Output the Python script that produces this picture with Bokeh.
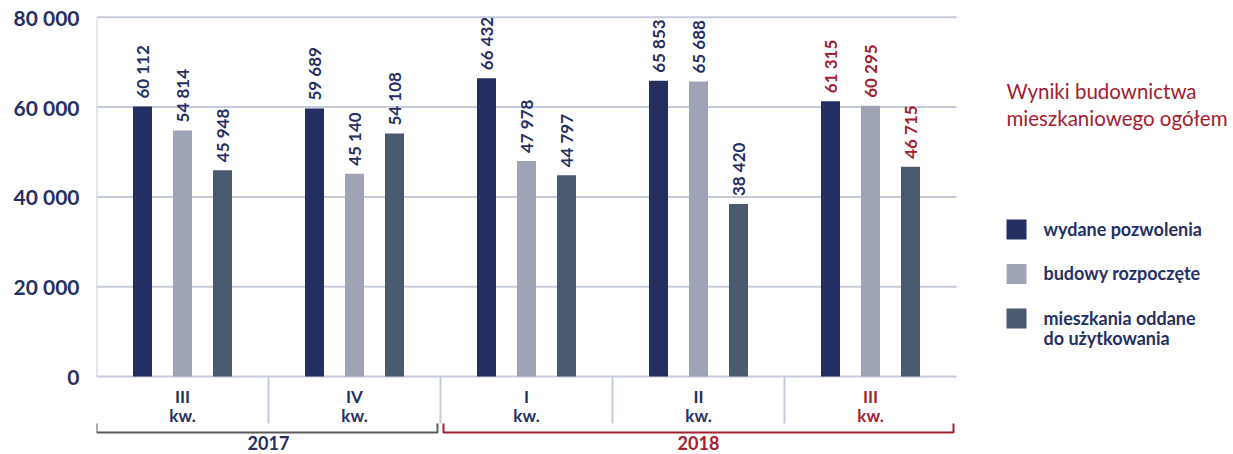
import math
from bokeh.plotting import figure
from bokeh.models import Range1d, FixedTicker, ColumnDataSource
from bokeh.core.properties import value
from bokeh.embed import file_html
from bokeh.resources import INLINE

# ---------------- data ----------------
quarters = ["III", "IV", "I", "II", "III"]
years = ["2017", "2017", "2018", "2018", "2018"]
series_names = ["wydane pozwolenia", "budowy rozpoczęte", "mieszkania oddane\ndo użytkowania"]
pozwolenia = [60112, 59689, 66432, 65853, 61315]
rozpoczete = [54814, 45140, 47978, 65688, 60295]
oddane = [45948, 54108, 44797, 38420, 46715]
y_ticks = [0, 20000, 40000, 60000, 80000]
y_tick_labels = ["0", "20 000", "40 000", "60 000", "80 000"]
title_text = "Wyniki budownictwa\nmieszkaniowego ogółem"

# ---------------- style ----------------
NAVY = "#262f62"
RED = "#a3202f"
GRAY_BRACKET = "#5a5a5a"
GRID = "#c6cbdb"
BAR_COLORS = ["#252e61", "#9ea3b5", "#4a5b70"]
FONT = value("Lato")

W, H = 1233, 454
LEFT = 96          # px of plot's left edge
BASE = 376         # px of zero line
GROUP_PX = 172     # px per quarter group
K = 0.00449        # px per unit of value


def xd(px):
    return (px - LEFT) / GROUP_PX - 0.5


def yd(py):
    return (BASE - py) / K


p = figure(width=W, height=H,
           x_range=Range1d(xd(LEFT), xd(W)), y_range=Range1d(yd(H), yd(0)),
           x_axis_location=None, y_axis_location="left",
           toolbar_location=None, output_backend="svg",
           min_border_left=LEFT, min_border_right=0, min_border_top=0, min_border_bottom=0,
           outline_line_color=None, background_fill_color="white", border_fill_color="white")
p.grid.visible = False

ax = p.yaxis[0]
ax.ticker = FixedTicker(ticks=y_ticks)
ax.major_label_overrides = {t: l for t, l in zip(y_ticks, y_tick_labels)}
ax.axis_line_color = None
ax.major_tick_line_color = None
ax.minor_tick_line_color = None
ax.major_label_standoff = 11
ax.major_label_text_font = "Lato"
ax.major_label_text_font_style = "bold"
ax.major_label_text_font_size = "21px"
ax.major_label_text_color = NAVY

n = len(quarters)
last = n - 1

# gridlines
p.segment(x0=[-0.5] * len(y_ticks), x1=[n - 0.5] * len(y_ticks), y0=y_ticks, y1=y_ticks,
          line_color=GRID, line_width=2)
# vertical axis line
p.segment(x0=[-0.5], x1=[-0.5], y0=[0], y1=[y_ticks[-1]], line_color=GRID, line_width=2)
# separators between quarters below axis
seps = [i + 0.5 for i in range(n - 1)]
p.segment(x0=seps, x1=seps, y0=[0] * len(seps), y1=[yd(BASE + 47)] * len(seps),
          line_color=GRID, line_width=2)

# bars
offset = 40 / GROUP_PX
bw = 19 / GROUP_PX
series = [pozwolenia, rozpoczete, oddane]
for si, vals in enumerate(series):
    xs = [i + (si - 1) * offset for i in range(n)]
    src = ColumnDataSource(dict(
        x=xs, top=vals,
        label=[f"{v:,}".replace(",", " ") for v in vals],
        color=[RED if i == last else NAVY for i in range(n)],
    ))
    p.vbar(x="x", top="top", bottom=0, width=bw, source=src,
           fill_color=BAR_COLORS[si], line_color=None)
    p.text(x="x", y="top", text="label", source=src, angle=math.pi / 2,
           text_align="left", text_baseline="middle", y_offset=-8,
           text_font=FONT, text_font_style="bold", text_font_size="17px",
           text_color="color")

# quarter labels
qsrc = ColumnDataSource(dict(
    x=list(range(n)), y=[0] * n,
    text=[q + "\nkw." for q in quarters],
    color=[RED if i == last else NAVY for i in range(n)],
))
p.text(x="x", y="y", text="text", source=qsrc, y_offset=9,
       text_align="center", text_baseline="top", text_line_height=0.93,
       text_font=FONT, text_font_style="bold", text_font_size="17px", text_color="color")

# year brackets
uniq_years = list(dict.fromkeys(years))
for yi, yr in enumerate(uniq_years):
    idx = [i for i, y in enumerate(years) if y == yr]
    x_left = idx[0] - 0.5 + (0 if idx[0] == 0 else 3 / GROUP_PX)
    x_right = idx[-1] + 0.5 - 3 / GROUP_PX
    col = RED if yi == len(uniq_years) - 1 else GRAY_BRACKET
    tcol = RED if yi == len(uniq_years) - 1 else NAVY
    yb, yt = yd(432), yd(423)
    p.line(x=[x_left, x_left, x_right, x_right], y=[yt, yb, yb, yt],
           line_color=col, line_width=2)
    p.text(x=[sum(idx) / len(idx)], y=[yd(435)], text=[yr],
           text_align="center", text_baseline="top",
           text_font=FONT, text_font_style="bold", text_font_size="18px", text_color=tcol)

# title
p.text(x=[xd(1006)], y=[yd(78)], text=[title_text], text_align="left", text_baseline="top",
       text_line_height=1.15, text_font=FONT, text_font_size="20.5px", text_color=RED)

# legend
for si, name in enumerate(series_names):
    cy = 229 + si * 44.5
    p.scatter(x=[xd(1016)], y=[yd(cy)], marker="square", size=20,
              fill_color=BAR_COLORS[si], line_color=None)
    p.text(x=[xd(1043)], y=[yd(cy - 12)], text=[name], text_align="left", text_baseline="top",
           text_line_height=0.93, text_font=FONT, text_font_style="bold",
           text_font_size="18px", text_color=NAVY)

open("out.html", "w").write(file_html(p, INLINE))
